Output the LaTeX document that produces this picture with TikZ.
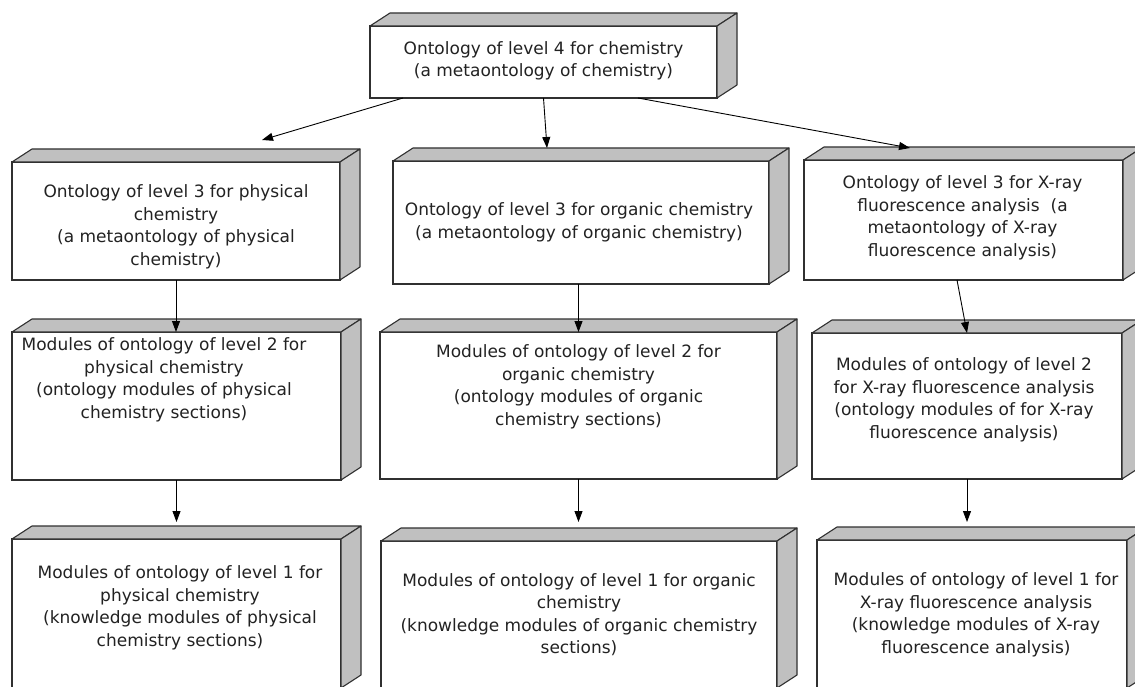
\documentclass[tikz,border=0pt]{standalone}
\usepackage{fontspec}
\setmainfont{DejaVu Sans}
\usetikzlibrary{arrows.meta,calc}
\definecolor{edge}{HTML}{303030}
\definecolor{facegray}{HTML}{C0C0C0}
\definecolor{txt}{HTML}{222222}
% width, height, vertical shift (bottom space), horizontal shift (right space), text
\newcommand{\bxt}[5]{\parbox[c][#2pt][c]{#1pt}{\centering\leftskip=0pt plus 1fil\rightskip=#4pt plus 1fil #5\par\vspace{#3pt}}}
\begin{document}
\begin{tikzpicture}[x=1pt,y=-1pt,
  bx/.style={draw=edge, fill=white, line width=1.1pt, inner sep=0pt, outer sep=0pt,
    text=txt, font=\fontsize{17}{22.5}\selectfont},
  face/.style={draw=edge, fill=facegray, line width=1.1pt, line join=round},
  arr/.style={draw=black, line width=0.9pt, -{Triangle[length=11pt,width=8pt]}}]
\useasboundingbox (0,0) rectangle (1135,687);
\fill[white] (0,0) rectangle (1135,687);
\clip (0,0) rectangle (1135,687);

\node[bx] (top) at (543.5,62) {\bxt{347}{72}{2}{0}{Ontology of level 4 for chemistry\\(a metaontology of chemistry)}};

\node[bx] (l3) at (176,221) {\bxt{328}{118}{-12}{0}{Ontology of level 3 for physical\\chemistry\\(a metaontology of physical\\chemistry)}};
\node[bx] (m3) at (581,222.5) {\bxt{376}{123}{0}{4}{Ontology of level 3 for organic chemistry\\(a metaontology of organic chemistry)}};
\node[bx] (r3) at (963.5,220) {\bxt{319}{120}{4}{2}{Ontology of level 3 for X-ray\\fluorescence analysis~ (a\\metaontology of X-ray\\fluorescence analysis)}};

\node[bx] (l2) at (176.5,406) {\bxt{329}{148}{52}{25}{Modules of ontology of level 2 for\\physical chemistry\\(ontology modules of physical\\chemistry sections)}};
\node[bx] (m2) at (578.5,405.5) {\bxt{397}{147}{37}{0}{Modules of ontology of level 2 for\\organic chemistry\\(ontology modules of organic\\chemistry sections)}};
\node[bx] (r2) at (967,406) {\bxt{310}{146}{12}{6}{Modules of ontology of level 2\\for X-ray fluorescence analysis\\(ontology modules of for X-ray\\fluorescence analysis)}};

\node[bx] (l1) at (176.5,613.5) {\bxt{329}{149}{11}{-7}{Modules of ontology of level 1 for\\physical chemistry\\(knowledge modules of physical\\chemistry sections)}};
\node[bx] (m1) at (579,614.5) {\bxt{396}{147}{0}{0}{Modules of ontology of level 1 for organic\\chemistry\\(knowledge modules of organic chemistry\\sections)}};
\node[bx] (r1) at (972,614) {\bxt{310}{148}{-2}{-8}{Modules of ontology of level 1 for\\X-ray fluorescence analysis\\(knowledge modules of X-ray\\fluorescence analysis)}};

\foreach \n in {top,l3,m3,r3,l2,m2,r2,l1,m1,r1}{
  \filldraw[face] (\n.north west) -- ++(20,-13) -- ($(\n.north east)+(20,-13)$) -- (\n.north east) -- cycle;
  \filldraw[face] (\n.north east) -- ++(20,-13) -- ($(\n.south east)+(20,-13)$) -- (\n.south east) -- cycle;
}

\draw[arr] ($(top.south west)+(33,0)$) -- ($(l3.north west)+(250,-22)$);
\draw[arr] (top.south) -- ($(m3.north)+(-34,-13)$);
\draw[arr] ($(top.south west)+(268,0)$) -- ($(r3.north west)+(106,-12)$);

\draw[arr] (l3.south) -- (l3.south |- l2.north);
\draw[arr] (l2.south) -- ($(l2.south |- l1.north)+(0,-17)$);

\draw[arr] (m2.north |- m3.south) -- (m2.north);
\draw[arr] (m2.south) -- ($(m2.south |- m1.north)+(0,-19)$);

\draw[arr] ($(r3.south)+(-6.5,0)$) -- (r2.north);
\draw[arr] (r2.south) -- ($(r2.south |- r1.north)+(0,-18)$);
\end{tikzpicture}
\end{document}
